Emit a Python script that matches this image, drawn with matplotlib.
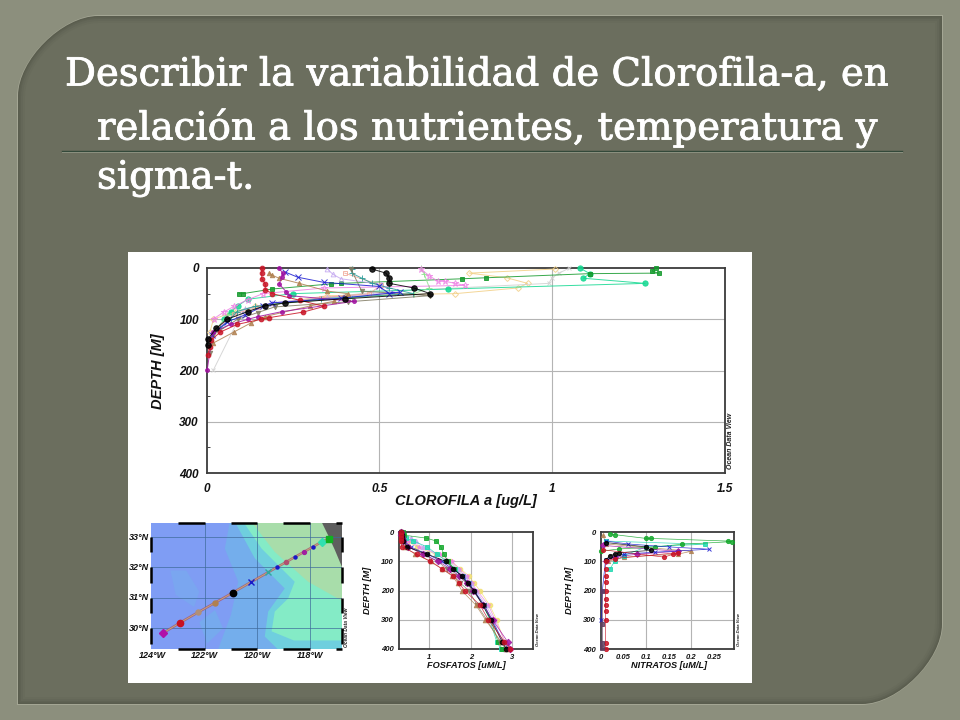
import matplotlib
matplotlib.use("Agg")
import matplotlib.pyplot as plt
import matplotlib.patheffects as pe
from matplotlib.patches import PathPatch, Rectangle, Polygon
from matplotlib.path import Path

W, H = 960, 720
SANS = "Liberation Sans"

title_lines = ["Describir la variabilidad de Clorofila-a, en",
               "relación a los nutrientes, temperatura y",
               "sigma-t."]

# ---------- CLOROFILA profiles (value, depth) ----------
chl_teal_v = [1.08, 1.109, 1.09, 1.269, 0.70, 0.25, 0.119, 0.09, 0.07, 0.052]
chl_teal_d = [0, 11, 20, 30, 41, 50, 61, 74, 85, 99]
chl_green_v = [1.299, 1.289, 1.308, 1.109, 0.81, 0.74, 0.389, 0.36, 0.19, 0.105, 0.095]
chl_green_d = [0, 6, 10, 11, 19, 21, 30, 31, 41, 50, 50]
chl_orange_v = [1.008, 0.76, 0.868, 0.929, 0.90, 0.72, 0.35, 0.14, 0.08, 0.02, 0.01]
chl_orange_d = [2, 10, 19, 30, 39, 50, 54, 75, 85, 100, 125]
chl_gray_v = [1.05, 1.02, 1.0, 0.99, 0.48, 0.40, 0.16, 0.1, 0.02]
chl_gray_d = [0, 10, 19, 30, 47, 54, 75, 90, 199]
chl_pink_v = [0.62, 0.644, 0.67, 0.69, 0.72, 0.748, 0.34, 0.163, 0.119, 0.079, 0.05, 0.021]
chl_pink_d = [2, 15, 26, 26, 30, 34, 39, 50, 62, 75, 86, 99]
chl_lime_v = [0.62, 0.63, 0.645, 0.60, 0.42, 0.2, 0.11, 0.06, 0.03]
chl_lime_d = [0, 12, 39, 50, 58, 70, 80, 92, 118]
chl_tealplus_v = [0.42, 0.42, 0.45, 0.48, 0.529, 0.598, 0.33, 0.139, 0.088, 0.07, 0.04]
chl_tealplus_d = [2, 10, 20, 30, 39, 50, 60, 75, 85, 99, 118]
chl_lav_v = [0.35, 0.365, 0.389, 0.505, 0.54, 0.35, 0.19, 0.11, 0.06, 0.02]
chl_lav_d = [2, 12, 21, 32, 48, 57, 68, 80, 100, 130]
chl_tan_v = [0.182, 0.19, 0.21, 0.269, 0.349, 0.408, 0.368, 0.30, 0.168, 0.129, 0.079, 0.018]
chl_tan_d = [10, 14, 20, 30, 45, 50, 65, 74, 95, 107, 125, 147]
chl_olive_v = [0.418, 0.449, 0.647, 0.408, 0.197, 0.148, 0.09, 0.02, 0.009]
chl_olive_d = [2, 45, 54, 66, 76, 87, 100, 130, 166]
chl_salmon_v = [0.4, 0.505, 0.47, 0.33, 0.15, 0.08, 0.03]
chl_salmon_d = [10, 34, 50, 58, 76, 90, 118]
chl_blue_v = [0.228, 0.264, 0.339, 0.50, 0.529, 0.56, 0.389, 0.189, 0.163, 0.11, 0.06, 0.015]
chl_blue_d = [8, 18, 28, 36, 50, 47, 59, 68, 75, 92, 105, 130]
chl_purple_v = [0.21, 0.22, 0.218, 0.21, 0.23, 0.24, 0.428, 0.219, 0.148, 0.12, 0.07, 0.018, 0.002]
chl_purple_d = [0, 10, 18, 31, 46, 54, 65, 85, 95, 100, 110, 125, 199]
chl_red_v = [0.161, 0.16, 0.16, 0.17, 0.17, 0.19, 0.27, 0.34, 0.28, 0.18, 0.158, 0.089, 0.04, 0.013, 0.009, 0.004]
chl_red_d = [0, 10, 21, 31, 42, 50, 63, 75, 86, 97, 100, 110, 125, 141, 154, 170]
chl_black_v = [0.479, 0.519, 0.529, 0.529, 0.60, 0.647, 0.40, 0.228, 0.168, 0.119, 0.059, 0.028, 0.004, 0.004]
chl_black_d = [2, 10, 19, 30, 39, 50, 60, 68, 74, 85, 100, 118, 139, 150]

# ---------- FOSFATOS profiles ----------
po4_d = [0, 10, 20, 30, 50, 75, 100, 125, 150, 175, 200, 250, 300, 375, 400]
po4_pink = [0.35, 0.36, 0.40, 0.50, 0.75, 1.25, 1.55, 1.72, 1.90, 2.02, 2.15, 2.42, 2.58, 2.82, 2.9]
po4_yellow = [0.33, 0.35, 0.38, 0.48, 0.70, 1.15, 1.50, 1.75, 1.95, 2.08, 2.22, 2.45, 2.62, 2.80, 2.88]
po4_lav = [0.34, 0.38, 0.55, 0.68, 0.85, 1.15, 1.48, 1.68, 1.85, 2.00, 2.12, 2.36, 2.55, 2.72, 2.82]
po4_teal = [0.33, 0.36, 0.45, 0.62, 0.95, 1.18, 1.42, 1.62, 1.78, 1.92, 2.05, 2.30, 2.45, 2.62, 2.72]
po4_green = [0.36, 0.40, 0.93, 1.17, 1.28, 1.35, 1.45, 1.60, 1.75, 1.90, 2.05, 2.32, 2.48, 2.65, 2.75]
po4_olive = [0.32, 0.34, 0.36, 0.38, 0.50, 0.85, 1.20, 1.42, 1.60, 1.75, 1.95, 2.15, 2.38, 2.70, 2.85]
po4_tan = [0.31, 0.32, 0.33, 0.34, 0.42, 0.65, 1.05, 1.30, 1.55, 1.68, 1.78, 2.12, 2.35, 2.72, 2.85]
po4_blue = [0.33, 0.34, 0.36, 0.40, 0.55, 0.95, 1.30, 1.55, 1.80, 1.95, 2.08, 2.32, 2.50, 2.78, 2.90]
po4_purple = [0.32, 0.33, 0.34, 0.38, 0.50, 0.85, 1.22, 1.50, 1.72, 1.90, 2.05, 2.30, 2.52, 2.88, 2.95]
po4_black = [0.33, 0.34, 0.35, 0.38, 0.46, 0.95, 1.40, 1.58, 1.78, 1.92, 2.08, 2.28, 2.48, 2.75, 2.85]
po4_red = [0.31, 0.31, 0.31, 0.32, 0.34, 0.70, 1.02, 1.30, 1.58, 1.72, 1.85, 2.22, 2.42, 2.80, 2.95]

# ---------- NITRATOS profiles ----------
no3_teal_v = [0.01, 0.23, 0.10, 0.05, 0.03, 0.02]
no3_teal_d = [30, 41, 50, 80, 100, 125]
no3_green_v = [0.02, 0.03, 0.10, 0.11, 0.28, 0.29, 0.18, 0.12, 0.04, 0.0]
no3_green_d = [5, 8, 21, 21, 30, 32, 41, 50, 57, 65]
no3_tan_v = [0.005, 0.01, 0.2, 0.17, 0.05, 0.015]
no3_tan_d = [10, 40, 65, 75, 85, 100]
no3_blue_v = [0.01, 0.06, 0.15, 0.24, 0.12, 0.05, 0.01, 0.003, 0.001]
no3_blue_d = [30, 40, 50, 58, 68, 75, 95, 200, 300]
no3_purple_v = [0.005, 0.17, 0.08, 0.03, 0.01]
no3_purple_d = [45, 65, 75, 85, 100]
no3_black_v = [0.01, 0.10, 0.11, 0.04, 0.03, 0.02, 0.01]
no3_black_d = [35, 50, 62, 70, 75, 80, 95]
no3_red_v = [0.005, 0.14, 0.16, 0.17, 0.03, 0.01, 0.01, 0.01, 0.01, 0.01, 0.01, 0.01, 0.01, 0.01, 0.01, 0.01]
no3_red_d = [60, 85, 75, 70, 90, 100, 125, 150, 170, 200, 228, 250, 270, 300, 380, 400]
no3_dot_v = [0.002, 0.002, 0.002, 0.002]
no3_dot_d = [200, 315, 378, 398]

# ---------- Station map ----------
st_lon = [-123.57, -122.92, -122.26, -121.60, -120.93, -120.25, -119.58,
          -119.24, -118.91, -118.57, -118.22, -117.89, -117.55, -117.28]
st_lat = [29.85, 30.19, 30.52, 30.84, 31.17, 31.51, 31.84,
          32.01, 32.17, 32.34, 32.51, 32.67, 32.84, 32.94]
st_col = ["#B010A8", "#C81020", "#B09078", "#B08050", "#000000", "#1818C8", "#30A8A0",
          "#1818C8", "#B05070", "#1818C8", "#A020A0", "#1818C8", "#30E0B0", "#10B020"]
st_mrk = ["D", "o", "o", "o", "o", "x", "x", "o", "o", "o", "o", "o", "D", "s"]
st_siz = [3.6, 4.5, 3.6, 3.6, 4.6, 4.2, 4.2, 2.2, 3, 2.2, 2.8, 2.2, 3.6, 3.8]

zoneA_lon = [-121.04, -121.23, -120.72, -121.0, -121.49, -116.7, -116.7]
zoneA_lat = [33.5, 32.62, 31.53, 30.44, 29.3, 29.3, 33.5]
blob1_lon = [-123.3, -122.7, -122.2, -122.4, -123.1]
blob1_lat = [31.9, 31.9, 31.2, 30.7, 31.1]
blob2_lon = [-122.2, -121.6, -121.3, -121.9]
blob2_lat = [30.2, 30.6, 30.0, 29.5]
zoneB_lon = [-120.85, -120.09, -118.95, -119.58, -119.71, -119.2, -116.7, -116.7]
zoneB_lat = [33.5, 32.3, 31.31, 30.55, 29.73, 29.3, 29.3, 33.5]
zoneC_lon = [-120.53, -119.83, -118.57, -118.82, -119.33, -119.45, -118.6, -116.7, -116.7]
zoneC_lat = [33.5, 32.62, 31.53, 30.98, 30.55, 29.9, 29.6, 29.6, 33.5]
zoneD_lon = [-120.22, -119.33, -118.06, -116.7, -116.7]
zoneD_lat = [33.5, 32.51, 31.53, 30.87, 33.5]
land_lon = [-117.55, -117.3, -117.04, -116.72, -116.72]
land_lat = [33.5, 33.06, 32.57, 31.91, 33.5]

lon_ticks = [-124, -122, -120, -118]
lon_labels = ["124°W", "122°W", "120°W", "118°W"]
lat_ticks = [30, 31, 32, 33]
lat_labels = ["30°N", "31°N", "32°N", "33°N"]

fig = plt.figure(figsize=(W / 100, H / 100), dpi=100, facecolor="#8C8F7D")
bg = fig.add_axes([0, 0, 1, 1], zorder=0)
bg.set_xlim(0, W)
bg.set_ylim(H, 0)
bg.axis("off")


def panel_path(l, t, r, b, rad):
    k = rad * 0.45
    verts = [(l + rad, t), (r, t), (r, b - rad), (r, b - rad + k), (r - rad + k, b),
             (r - rad, b), (l, b), (l, t + rad), (l, t + rad - k), (l + rad - k, t),
             (l + rad, t)]
    codes = [Path.MOVETO, Path.LINETO, Path.LINETO, Path.CURVE4, Path.CURVE4, Path.CURVE4,
             Path.LINETO, Path.LINETO, Path.CURVE4, Path.CURVE4, Path.CURVE4]
    return Path(verts, codes)


bg.add_patch(PathPatch(panel_path(17, 15, 943, 705, 82), fc="#A4A694", ec="none"))
bg.add_patch(PathPatch(panel_path(18, 16, 942, 704, 80), fc="#5A5D4E", ec="none"))
for inset, col in [(1.5, "#5F6253"), (3, "#646758"), (5, "#686B5B"), (7, "#6B6E5E")]:
    bg.add_patch(PathPatch(panel_path(18 + inset, 16 + inset, 942 - inset, 704 - inset,
                                      80 - inset), fc=col, ec="none"))

bg.plot([62, 902], [151, 151], color="#33493A", lw=1.0)
bg.plot([62, 902], [152.3, 152.3], color="#8C9180", lw=0.7)
stroke = [pe.withStroke(linewidth=0.6, foreground="white")]
for (x, y, s) in [(65, 75, title_lines[0]), (97, 128, title_lines[1]), (97, 178, title_lines[2])]:
    bg.text(x, y, s, color="white", fontsize=27.8, family="DejaVu Serif", va="center", ha="left",
            path_effects=stroke)

bg.add_patch(Rectangle((128, 252), 624, 431, fc="white", ec="none"))


def px_axes(l, t, r, b, z=2):
    return fig.add_axes([l / W, 1 - b / H, (r - l) / W, (b - t) / H], zorder=z)


def style(ax, xlim, xt, xl, xgrid, xlabel, ylabel, fs, lab_fs, lx, ly, odv, odv_fs, ymt=None):
    ax.set_xlim(*xlim)
    ax.set_ylim(400, 0)
    ax.set_xticks(xt)
    ax.set_xticklabels(xl, fontsize=fs, family=SANS, weight="bold", style="italic", color="#111111")
    ax.set_yticks([0, 100, 200, 300, 400])
    ax.set_yticklabels(["0", "100", "200", "300", "400"], fontsize=fs, family=SANS,
                       weight="bold", style="italic", color="#111111")
    ax.tick_params(length=0, pad=5.5 if fs > 7 else 3.5)
    if ymt:
        ax.set_yticks(ymt, minor=True)
        ax.tick_params(which="minor", axis="y", direction="in", length=2, width=0.7, color="#444444")
    for v in xgrid:
        ax.axvline(v, color="#B4B4B4", lw=0.8, zorder=1)
    for v in (100, 200, 300):
        ax.axhline(v, color="#B4B4B4", lw=0.8, zorder=1)
    for s in ax.spines.values():
        s.set_color("#3C3C3C")
        s.set_linewidth(1.3)
    bg.text(lx[0], lx[1], xlabel, fontsize=lab_fs, family=SANS, weight="bold", style="italic",
            ha="center", va="center", color="#111111")
    bg.text(ly[0], ly[1], ylabel, fontsize=lab_fs, family=SANS, weight="bold", style="italic",
            ha="center", va="center", rotation=90, color="#111111")
    bg.text(odv[0], odv[1], "Ocean Data View", fontsize=odv_fs, family=SANS, weight="bold",
            style="italic", ha="center", va="center", rotation=90, color="#222222")


# ---------- Main panel ----------
ax = px_axes(206.5, 268, 725, 473)
style(ax, (0, 1.5), [0, 0.5, 1, 1.5], ["0", "0.5", "1", "1.5"], [0.5, 1.0],
      "CLOROFILA a [ug/L]", "DEPTH [M]", 8.5, 10.5, (466, 501), (158, 371), (731, 441), 5,
      ymt=[50, 150, 250, 350])
ax.tick_params(axis="x", pad=7)


def prof(a, v, d, col, mk, ms=3.2, filled=True, lw=0.7, alpha=0.85):
    a.plot(v, d, color=col, lw=lw, alpha=alpha, marker=mk, ms=ms,
           mfc=col if filled else "none", mec=col, mew=0.7, clip_on=False, zorder=3)


prof(ax, chl_orange_v, chl_orange_d, "#F2CF85", "D", 3, False)
prof(ax, chl_gray_v, chl_gray_d, "#D0D0D0", "x", 3.2, False)
prof(ax, chl_teal_v, chl_teal_d, "#12D890", "o", 3.8)
prof(ax, chl_green_v, chl_green_d, "#149A2C", "s", 3.2)
prof(ax, chl_lime_v, chl_lime_d, "#8EE28E", "+", 4)
prof(ax, chl_pink_v, chl_pink_d, "#EE80E4", "*", 5, False)
prof(ax, chl_lav_v, chl_lav_d, "#C4A8F0", "^", 3.4, False)
prof(ax, chl_salmon_v, chl_salmon_d, "#F0A898", "s", 3, False)
prof(ax, chl_tealplus_v, chl_tealplus_d, "#2A9C98", "+", 4.2)
prof(ax, chl_olive_v, chl_olive_d, "#807A62", "v", 3.2)
prof(ax, chl_tan_v, chl_tan_d, "#B08050", "^", 3.2)
prof(ax, chl_blue_v, chl_blue_d, "#1A1AD0", "x", 3.8)
prof(ax, chl_purple_v, chl_purple_d, "#A010A0", "o", 2.8)
prof(ax, chl_red_v, chl_red_d, "#C81224", "o", 3.4)
prof(ax, chl_black_v, chl_black_d, "#000000", "o", 4)

# ---------- Phosphate panel ----------
ax2 = px_axes(398.5, 532.3, 533.3, 648.8)
style(ax2, (0.26, 3.5), [1, 2, 3], ["1", "2", "3"], [1, 2, 3],
      "FOSFATOS [uM/L]", "DEPTH [M]", 5.5, 6.6, (466, 666), (367, 590), (538, 630), 3)
for vals, col, mk in [(po4_yellow, "#F2E070", "o"), (po4_pink, "#F080E0", "*"),
                      (po4_lav, "#C4A8F0", "^"), (po4_teal, "#20D8B0", "s"),
                      (po4_green, "#14A82C", "s"), (po4_olive, "#807A62", "v"),
                      (po4_tan, "#B08050", "^"), (po4_blue, "#1A1AD0", "x"),
                      (po4_purple, "#A010A0", "D"), (po4_black, "#000000", "o"),
                      (po4_red, "#C81224", "o")]:
    prof(ax2, vals, po4_d, col, mk, 3.3, True, 0.5)

# ---------- Nitrate panel ----------
ax3 = px_axes(601, 532.3, 734.3, 649)
style(ax3, (0, 0.295), [0, 0.05, 0.1, 0.15, 0.2, 0.25],
      ["0", "0.05", "0.1", "0.15", "0.2", "0.25"], [0.1, 0.2],
      "NITRATOS [uM/L]", "DEPTH [M]", 5.5, 6.6, (669, 666), (569, 590), (739, 630), 3)
for v, d, col, mk in [(no3_tan_v, no3_tan_d, "#B08050", "^"),
                      (no3_teal_v, no3_teal_d, "#20D8B0", "s"),
                      (no3_green_v, no3_green_d, "#14A82C", "o"),
                      (no3_purple_v, no3_purple_d, "#A010A0", "D"),
                      (no3_blue_v, no3_blue_d, "#1A1AD0", "x"),
                      (no3_black_v, no3_black_d, "#000000", "o"),
                      (no3_red_v, no3_red_d, "#C81224", "o"),
                      (no3_dot_v, no3_dot_d, "#604060", "s")]:
    prof(ax3, v, d, col, mk, 3, True, 0.5)

# ---------- Map ----------
m = px_axes(151, 523, 342, 649)
m.set_xlim(-124.04, -116.77)
m.set_ylim(29.32, 33.46)
m.set_facecolor("#7F9DF4")
for (lo, la, c) in [(zoneA_lon, zoneA_lat, "#74AEEC"), (blob1_lon, blob1_lat, "#7AA6F0"),
                    (blob2_lon, blob2_lat, "#76AAEE"), (zoneB_lon, zoneB_lat, "#6FCFDE"),
                    (zoneC_lon, zoneC_lat, "#84EBC6"), (zoneD_lon, zoneD_lat, "#A8DDAA"),
                    (land_lon, land_lat, "#5E5E5E")]:
    m.add_patch(Polygon(list(zip(lo, la)), closed=True, fc=c, ec="none", zorder=1))
for t in lon_ticks[1:]:
    m.axvline(t, color="#3E6A9A", lw=0.7, alpha=0.7, zorder=2)
for t in lat_ticks:
    m.axhline(t, color="#3E6A9A", lw=0.7, alpha=0.7, zorder=2)
m.plot(st_lon, st_lat, color="#A85878", lw=1.8, alpha=0.85, zorder=3, solid_capstyle="round")
m.plot(st_lon, st_lat, color="#C8B070", lw=0.6, zorder=4)
for lo, la, c, k, s in zip(st_lon, st_lat, st_col, st_mrk, st_siz):
    m.plot([lo], [la], marker=k, color=c, ms=s, mew=1.0, zorder=5)
m.set_xticks([])
m.set_yticks([])
for s in m.spines.values():
    s.set_visible(False)
frame_lon = [(-123, -122), (-121, -120), (-119, -118), (-117, -116.77)]
frame_lat = [(32.5, 33), (31.5, 32), (30.5, 31), (29.5, 30)]
for a, b in frame_lon:
    for y in (33.46, 29.32):
        m.plot([a, b], [y, y], color="black", lw=1.8, clip_on=False, zorder=6, solid_capstyle="butt")
for a, b in frame_lat:
    for x in (-124.04, -116.77):
        m.plot([x, x], [a, b], color="black", lw=1.8, clip_on=False, zorder=6, solid_capstyle="butt")
for t, s in zip(lon_ticks, lon_labels):
    m.text(t, 29.32 - 0.22, s, fontsize=6.5, family=SANS, weight="bold", style="italic",
           ha="center", va="center", color="#111111")
for t, s in zip(lat_ticks, lat_labels):
    m.text(-124.04 - 0.06, t, s, fontsize=6.5, family=SANS, weight="bold", style="italic",
           ha="right", va="center", color="#111111")
bg.text(346, 627, "Ocean Data View", fontsize=3.5, family=SANS, weight="bold", style="italic",
        ha="center", va="center", rotation=90, color="#222222")

fig.savefig("out.png", dpi=100, facecolor=fig.get_facecolor())
